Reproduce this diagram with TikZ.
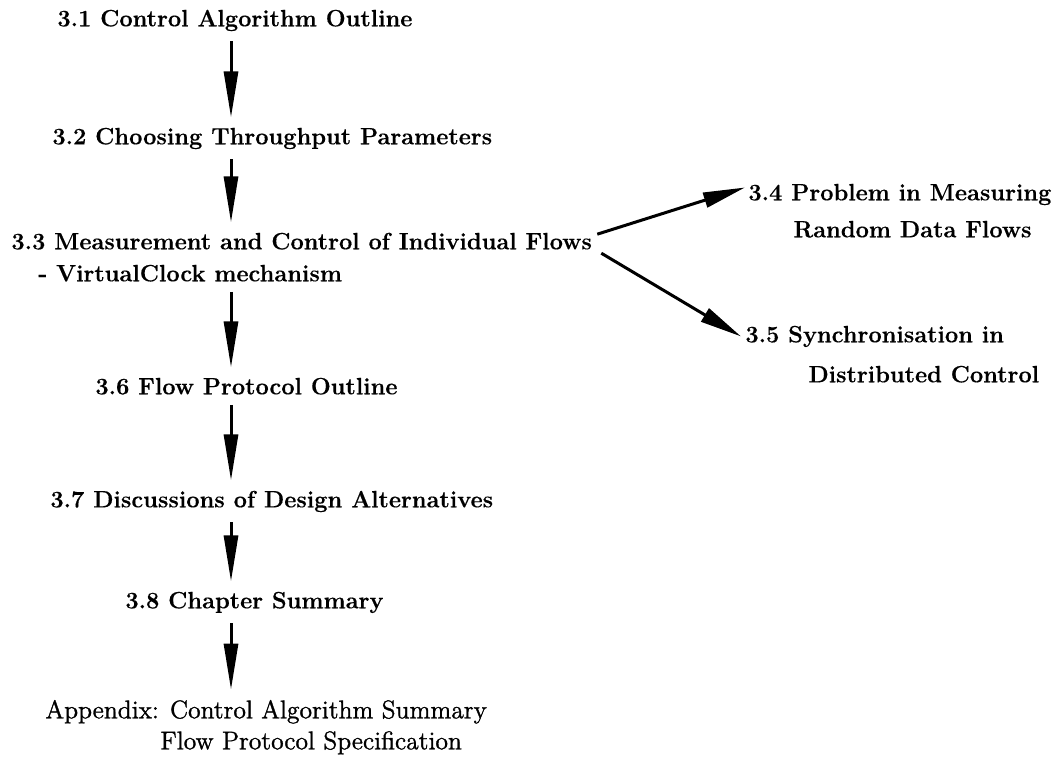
\documentclass[tikz,border=0pt]{standalone}
\usepackage{fontspec}
\setmainfont{Latin Modern Roman}[BoldFeatures={FakeBold=0.4}]
\newfontfamily\apxfont{Latin Modern Roman}[FakeBold=1.2]
\usetikzlibrary{arrows.meta}
\begin{document}
\begin{tikzpicture}[x=0.5pt,y=-0.5pt,
  txt/.style={inner sep=0pt, anchor=mid west, font=\fontsize{11.8}{14}\selectfont\bfseries},
  apx/.style={inner sep=0pt, anchor=mid west, font=\apxfont\fontsize{12.8}{15}\selectfont},
  varr/.style={line width=1.5pt, -{Triangle[length=23pt,width=7pt]}},
  darr/.style={line width=1.5pt, -{Triangle[length=21pt,width=7.5pt]}}]
\useasboundingbox (0,0) rectangle (1053,758);
\coordinate (xc) at (231,0);
\node[txt] (n31) at (57,22) {3.1 Control Algorithm Outline};
\node[txt] (n32) at (52,140) {3.2 Choosing Throughput Parameters};
\node[txt] (n33a) at (11,245) {3.3 Measurement and Control of Individual Flows};
\node[txt] (n33b) at (38,277) {- VirtualClock mechanism};
\node[txt] (n34a) at (748,196) {3.4 Problem in Measuring};
\node[txt] (n34b) at (793,233) {Random Data Flows};
\node[txt] (n35a) at (745,338) {3.5 Synchronisation in};
\node[txt] (n35b) at (808,378) {Distributed Control};
\node[txt] (n36) at (95,390) {3.6 Flow Protocol Outline};
\node[txt] (n37) at (50,503) {3.7 Discussions of Design Alternatives};
\node[txt] (n38) at (125,604) {3.8 Chapter Summary};
\node[apx] (napa) at (45,714) {Appendix: Control Algorithm Summary};
\node[apx] (napb) at (160,745) {Flow Protocol Specification};
% vertical arrows
\draw[varr] ([yshift=-5pt]xc |- n31.south) -- ([yshift=5pt]xc |- n32.north);
\draw[varr] ([yshift=-5pt]xc |- n32.south) -- ([yshift=5pt]xc |- n33a.north);
\draw[varr] ([yshift=-5pt]xc |- n33b.south) -- ([yshift=5pt]xc |- n36.north);
\draw[varr] ([yshift=-5pt]xc |- n36.south) -- ([yshift=5pt]xc |- n37.north);
\draw[varr] ([yshift=-5pt]xc |- n37.south) -- ([yshift=5pt]xc |- n38.north);
\draw[varr] ([yshift=-5pt]xc |- n38.south) -- ([yshift=5pt]xc |- napa.north);
% diagonal arrows
\draw[darr] ([shift={(5,-7)}]n33a.east) -- ([shift={(-3,-7)}]n34a.west);
\draw[darr] ([shift={(9,12)}]n33a.east) -- ([shift={(-4,0)}]n35a.west);
\end{tikzpicture}
\end{document}
